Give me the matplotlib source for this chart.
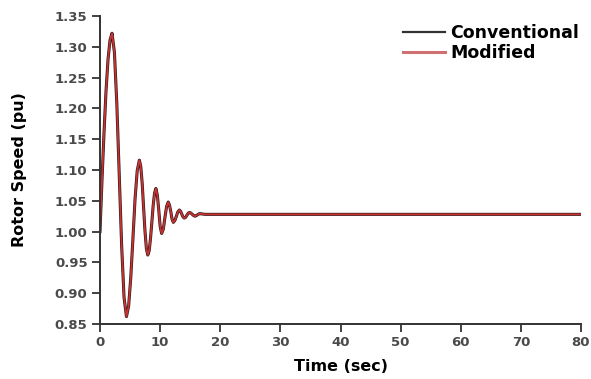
import matplotlib
matplotlib.use("Agg")
import matplotlib.pyplot as plt

# rotor speed (time in sec, speed in pu)
time_sec = [0.0, 0.33, 0.67, 1.0, 1.33, 1.67, 2.0,
            2.4, 2.8, 3.2, 3.6, 4.0, 4.4,
            4.76, 5.12, 5.48, 5.83, 6.19, 6.55,
            6.78, 7.02, 7.25, 7.48, 7.72, 7.95,
            8.18, 8.4, 8.63, 8.85, 9.08, 9.3,
            9.54, 9.78, 10.01, 10.25,
            10.53, 10.8, 11.08, 11.35,
            11.56, 11.78, 11.99, 12.2,
            12.45, 12.7, 12.95, 13.2,
            13.4, 13.6, 13.8, 14.0,
            14.23, 14.45, 14.68, 14.9,
            15.13, 15.35, 15.58, 15.8,
            16.03, 16.25, 16.48, 16.7,
            17.5, 20.0, 40.0, 60.0, 80.0]
conventional = [1.000, 1.083, 1.161, 1.228, 1.279, 1.311, 1.322,
                1.291, 1.207, 1.092, 0.977, 0.893, 0.862,
                0.879, 0.926, 0.989, 1.053, 1.099, 1.116,
                1.106, 1.078, 1.039, 1.001, 0.972, 0.962,
                0.969, 0.989, 1.016, 1.043, 1.063, 1.070,
                1.059, 1.034, 1.008, 0.997,
                1.004, 1.023, 1.041, 1.048,
                1.043, 1.032, 1.020, 1.015,
                1.018, 1.025, 1.032, 1.035,
                1.033, 1.0285, 1.024, 1.022,
                1.023, 1.0265, 1.030, 1.031,
                1.030, 1.028, 1.026, 1.025,
                1.026, 1.0275, 1.029, 1.029,
                1.028, 1.028, 1.028, 1.028, 1.028]
# the modified controller overlaps the conventional one everywhere
modified = list(conventional)

xticks = [0, 10, 20, 30, 40, 50, 60, 70, 80]
yticks = [0.85, 0.90, 0.95, 1.00, 1.05, 1.10, 1.15, 1.20, 1.25, 1.30, 1.35]

plt.rcParams['font.family'] = ['DejaVu Sans']

fig = plt.figure(figsize=(5.91, 3.79), dpi=100)
ax = fig.add_axes([100/591, 1-324/379, 481/591, 308/379])

ax.plot(time_sec, conventional, color='#2a1a1a', lw=2.2, label='Conventional')
ax.plot(time_sec, modified, color='#c83232', lw=1.3, label='Modified')

ax.set_xlim(0, 80)
ax.set_ylim(0.85, 1.35)
ax.set_xticks(xticks)
ax.set_yticks(yticks)
ax.set_yticklabels(['%.2f' % v for v in yticks])

for s in ['top', 'right']:
    ax.spines[s].set_visible(False)
for s in ['left', 'bottom']:
    ax.spines[s].set_color('#333333')
    ax.spines[s].set_linewidth(1.4)
ax.tick_params(direction='out', length=6, width=1.3, color='#333333',
               labelsize=9.5, labelcolor='#4a4a4a', pad=3)
for lab in ax.get_xticklabels() + ax.get_yticklabels():
    lab.set_fontweight('bold')

ax.set_xlabel('Time (sec)', fontsize=11.5, fontweight='bold', labelpad=7)
ax.set_ylabel('Rotor Speed (pu)', fontsize=11.5, fontweight='bold', labelpad=20)

leg = ax.legend(loc='upper left', bbox_to_anchor=(403/591, 1-24/379),
                bbox_transform=fig.transFigure, frameon=False,
                prop={'weight': 'bold', 'size': 12.5},
                handlelength=2.4, handletextpad=0.3, labelspacing=0.12,
                borderpad=0, borderaxespad=0)
lines = leg.get_lines()
lines[0].set_linewidth(1.6)
lines[0].set_color('#333333')
lines[1].set_linewidth(2.2)
lines[1].set_color('#d07070')

fig.savefig('out.png', dpi=100)
